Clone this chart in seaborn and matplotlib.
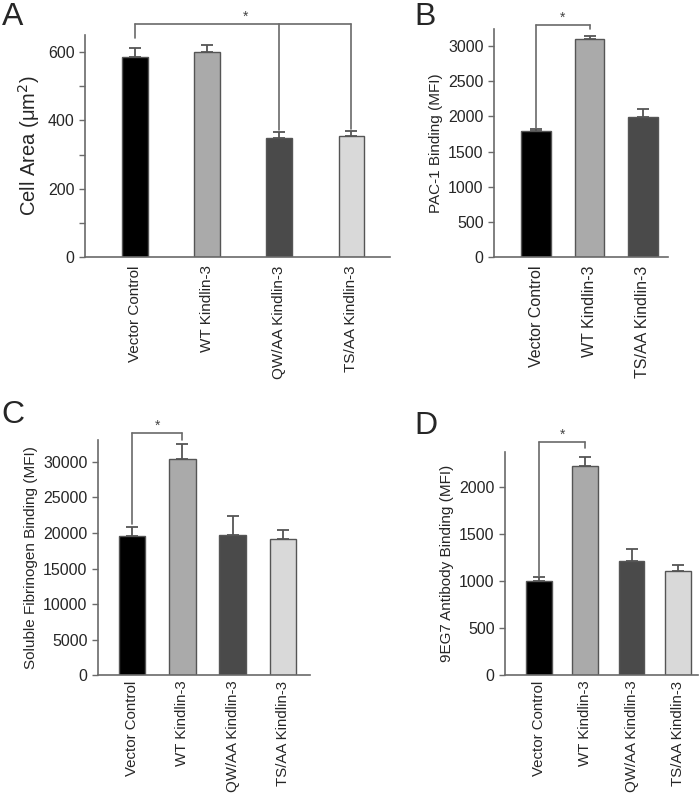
import numpy as np
import pandas as pd
import matplotlib
matplotlib.use("Agg")
import matplotlib.pyplot as plt
import seaborn as sns

# ---------------- data ----------------
cats4 = ["Vector Control", "WT Kindlin-3", "QW/AA Kindlin-3", "TS/AA Kindlin-3"]
cats3 = ["Vector Control", "WT Kindlin-3", "TS/AA Kindlin-3"]

a_vals = [585, 600, 349, 355]
a_err = [27, 22, 17, 15]

b_vals = [1792, 3100, 1987]
b_err = [23, 50, 113]

c_vals = [19600, 30420, 19700, 19100]
c_err = [1230, 2020, 2670, 1300]

d_vals = [1003, 2230, 1216, 1106]
d_err = [43, 95, 131, 64]

a_ticks = [0, 200, 400, 600]
b_ticks = [0, 500, 1000, 1500, 2000, 2500, 3000]
c_ticks = [0, 5000, 10000, 15000, 20000, 25000, 30000]
d_ticks = [0, 500, 1000, 1500, 2000]

col4 = ["#000000", "#aaaaaa", "#4a4a4a", "#d9d9d9"]
col3 = ["#000000", "#aaaaaa", "#4a4a4a"]

sns.set_style("ticks")
plt.rcParams["font.family"] = ["Liberation Sans", "DejaVu Sans"]

W, H = 700, 799
fig = plt.figure(figsize=(7.0, 7.99), dpi=100)

def rect(l, r, b, t):
    return [l / W, (H - b) / H, (r - l) / W, (b - t) / H]

GRAY = "#6a6a6a"

def panel(r, cats, vals, errs, colors, ylim, ticks, minor, ylabel, ylfs, xlim, width,
          xfs=11.5, xpad=6):
    ax = fig.add_axes(r)
    df = pd.DataFrame({"cat": cats, "val": vals})
    sns.barplot(data=df, x="cat", y="val", hue="cat", palette=colors, legend=False,
                ax=ax, width=width, edgecolor="#555555", linewidth=1.0, errorbar=None)
    xs = np.arange(len(cats))
    ax.errorbar(xs, vals, yerr=[np.zeros(len(vals)), errs], fmt="none",
                ecolor="#555555", elinewidth=1.3, capsize=4, capthick=1.3, zorder=1)
    ax.set_ylim(*ylim)
    ax.set_xlim(*xlim)
    ax.set_yticks(ticks)
    if minor is not None:
        ax.set_yticks(minor, minor=True)
    ax.set_xticks(xs)
    ax.set_xticklabels(cats, rotation=90, fontsize=xfs)
    ax.tick_params(axis="y", labelsize=11.5, length=4, color=GRAY, width=1)
    ax.tick_params(axis="y", which="minor", length=4, color=GRAY, width=1)
    ax.tick_params(axis="x", length=0, pad=xpad)
    ax.set_xlabel("")
    ax.set_ylabel(ylabel, fontsize=ylfs)
    for s in ["top", "right"]:
        ax.spines[s].set_visible(False)
    for s in ["left", "bottom"]:
        ax.spines[s].set_color(GRAY)
        ax.spines[s].set_linewidth(1.2)
    return ax

def bracket(ax, pairs_bottom, ytop, star_x):
    xs = [p[0] for p in pairs_bottom]
    kw = dict(color=GRAY, lw=1.2, clip_on=False)
    ax.plot([min(xs), max(xs)], [ytop, ytop], **kw)
    for x, yb in pairs_bottom:
        ax.plot([x, x], [yb, ytop], **kw)
    ax.text(star_x, ytop, "*", ha="center", va="bottom", fontsize=10, color="#444444")

# Panel A
axA = panel(rect(85, 390, 257, 35), cats4, a_vals, a_err, col4, (0, 650), a_ticks,
            [100, 300, 500], "Cell Area (\u03bcm$^2$)", 14.5, (-0.70, 3.535), 0.36, xfs=11)
bracket(axA, [(0, 640), (2, 372), (3, 375)], 682, 1.53)

# Panel B
axB = panel(rect(494, 668, 257, 29), cats3, b_vals, b_err, col3, (0, 3245), b_ticks,
            None, "PAC-1 Binding (MFI)", 11, (-0.79, 2.47), 0.56)
bracket(axB, [(0, 1830), (1, 3240)], 3300, 0.5)

# Panel C
axC = panel(rect(98, 310, 675.3, 440), cats4, c_vals, c_err, col4, (0, 33050), c_ticks,
            None, "Soluble Fibrinogen Binding (MFI)", 11, (-0.68, 3.54), 0.53,
            xfs=10.8, xpad=4)
bracket(axC, [(0, 21300), (1, 33000)], 34100, 0.5)

# Panel D
axD = panel(rect(505, 698, 675.3, 452.3), cats4, d_vals, d_err, col4, (0, 2372), d_ticks,
            None, "9EG7 Antibody Binding (MFI)", 11, (-0.74, 3.44), 0.56,
            xfs=10.8, xpad=4)
bracket(axD, [(0, 1060), (1, 2420)], 2480, 0.5)

# panel letters
for lab, x, y in [("A", 2, 2), ("B", 414, 2), ("C", 1, 400), ("D", 414, 411)]:
    fig.text(x / W, 1 - y / H, lab, fontsize=23, ha="left", va="top")

fig.savefig("out.png", dpi=100)
